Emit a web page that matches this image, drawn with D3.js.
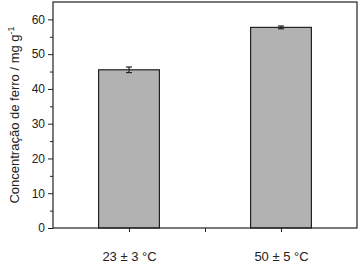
<!DOCTYPE html>
<html>
<head>
<meta charset="utf-8">
<script src="https://cdn.jsdelivr.net/npm/d3@7"></script>
<style>
  body { margin: 0; background: #fff; }
  svg text { font-family: "Liberation Sans", Arial, sans-serif; fill: #222; }
</style>
</head>
<body>
<svg id="plot"></svg>
<script>
var categories = ["23 \u00b1 3 \u00b0C", "50 \u00b1 5 \u00b0C"];
var values = [45.5, 57.7];
var errors = [0.8, 0.4];
var yTicks = [0, 10, 20, 30, 40, 50, 60];
var yMinorTicks = [5, 15, 25, 35, 45, 55];

var width = 362, height = 267;
var margin = {top: 2, right: 5, bottom: 39, left: 53};

var svg = d3.select("#plot")
    .attr("width", width)
    .attr("height", height);

var xScale = d3.scaleLinear()
    .domain([0.5, 2.5])
    .range([margin.left, width - margin.right]);
var yScale = d3.scaleLinear()
    .domain([0, 65])
    .range([height - margin.bottom, margin.top]);

var barW = xScale(1.4) - xScale(1);

// bars
svg.selectAll(".bar")
  .data(values)
  .enter().append("rect")
    .attr("class", "bar")
    .attr("x", (d, i) => xScale(i + 1) - barW / 2)
    .attr("y", d => yScale(d))
    .attr("width", barW)
    .attr("height", d => yScale(0) - yScale(d))
    .attr("fill", "#b2b2b2")
    .attr("stroke", "#222")
    .attr("stroke-width", 1.2);

// error bars
values.forEach(function(v, i) {
  var cx = xScale(i + 1);
  var g = svg.append("g").attr("stroke", "#222").attr("stroke-width", 1.2);
  g.append("line")
    .attr("x1", cx).attr("x2", cx)
    .attr("y1", yScale(v + errors[i])).attr("y2", yScale(v - errors[i]));
  [v + errors[i], v - errors[i]].forEach(function(e) {
    g.append("line")
      .attr("x1", cx - 3).attr("x2", cx + 3)
      .attr("y1", yScale(e)).attr("y2", yScale(e));
  });
});

// frame
svg.append("rect")
    .attr("x", margin.left)
    .attr("y", margin.top)
    .attr("width", width - margin.left - margin.right)
    .attr("height", height - margin.top - margin.bottom)
    .attr("fill", "none")
    .attr("stroke", "#222")
    .attr("stroke-width", 1.2);

// y axis
var yAxis = svg.append("g")
    .attr("transform", "translate(" + margin.left + ",0)")
    .call(d3.axisLeft(yScale).tickValues(yTicks).tickSize(5).tickPadding(3).tickSizeOuter(0));
yAxis.select(".domain").remove();
yAxis.selectAll("text").attr("font-size", 12);
yAxis.selectAll("line").attr("stroke", "#222");

svg.append("g")
    .attr("transform", "translate(" + margin.left + ",0)")
    .call(d3.axisLeft(yScale).tickValues(yMinorTicks).tickSize(3).tickFormat(""))
    .call(g => g.select(".domain").remove())
    .selectAll("line").attr("stroke", "#222");

// x axis
var xAxis = svg.append("g")
    .attr("transform", "translate(0," + yScale(0) + ")")
    .call(d3.axisBottom(xScale).tickValues([1, 1.5, 2]).tickSize(4).tickPadding(20)
      .tickFormat(d => Number.isInteger(d) ? categories[d - 1] : ""));
xAxis.select(".domain").remove();
xAxis.selectAll("text").attr("font-size", 13);
xAxis.selectAll("line").attr("stroke", "#222");

// y label
var yl = svg.append("text")
    .attr("transform", "translate(19," + (yScale(0) + yScale(65)) / 2 + ") rotate(-90)")
    .attr("text-anchor", "middle")
    .attr("font-size", 13);
yl.append("tspan").text("Concentra\u00e7\u00e3o de ferro / mg g");
yl.append("tspan").attr("dy", -5).attr("font-size", 9).text("-1");
</script>
</body>
</html>
